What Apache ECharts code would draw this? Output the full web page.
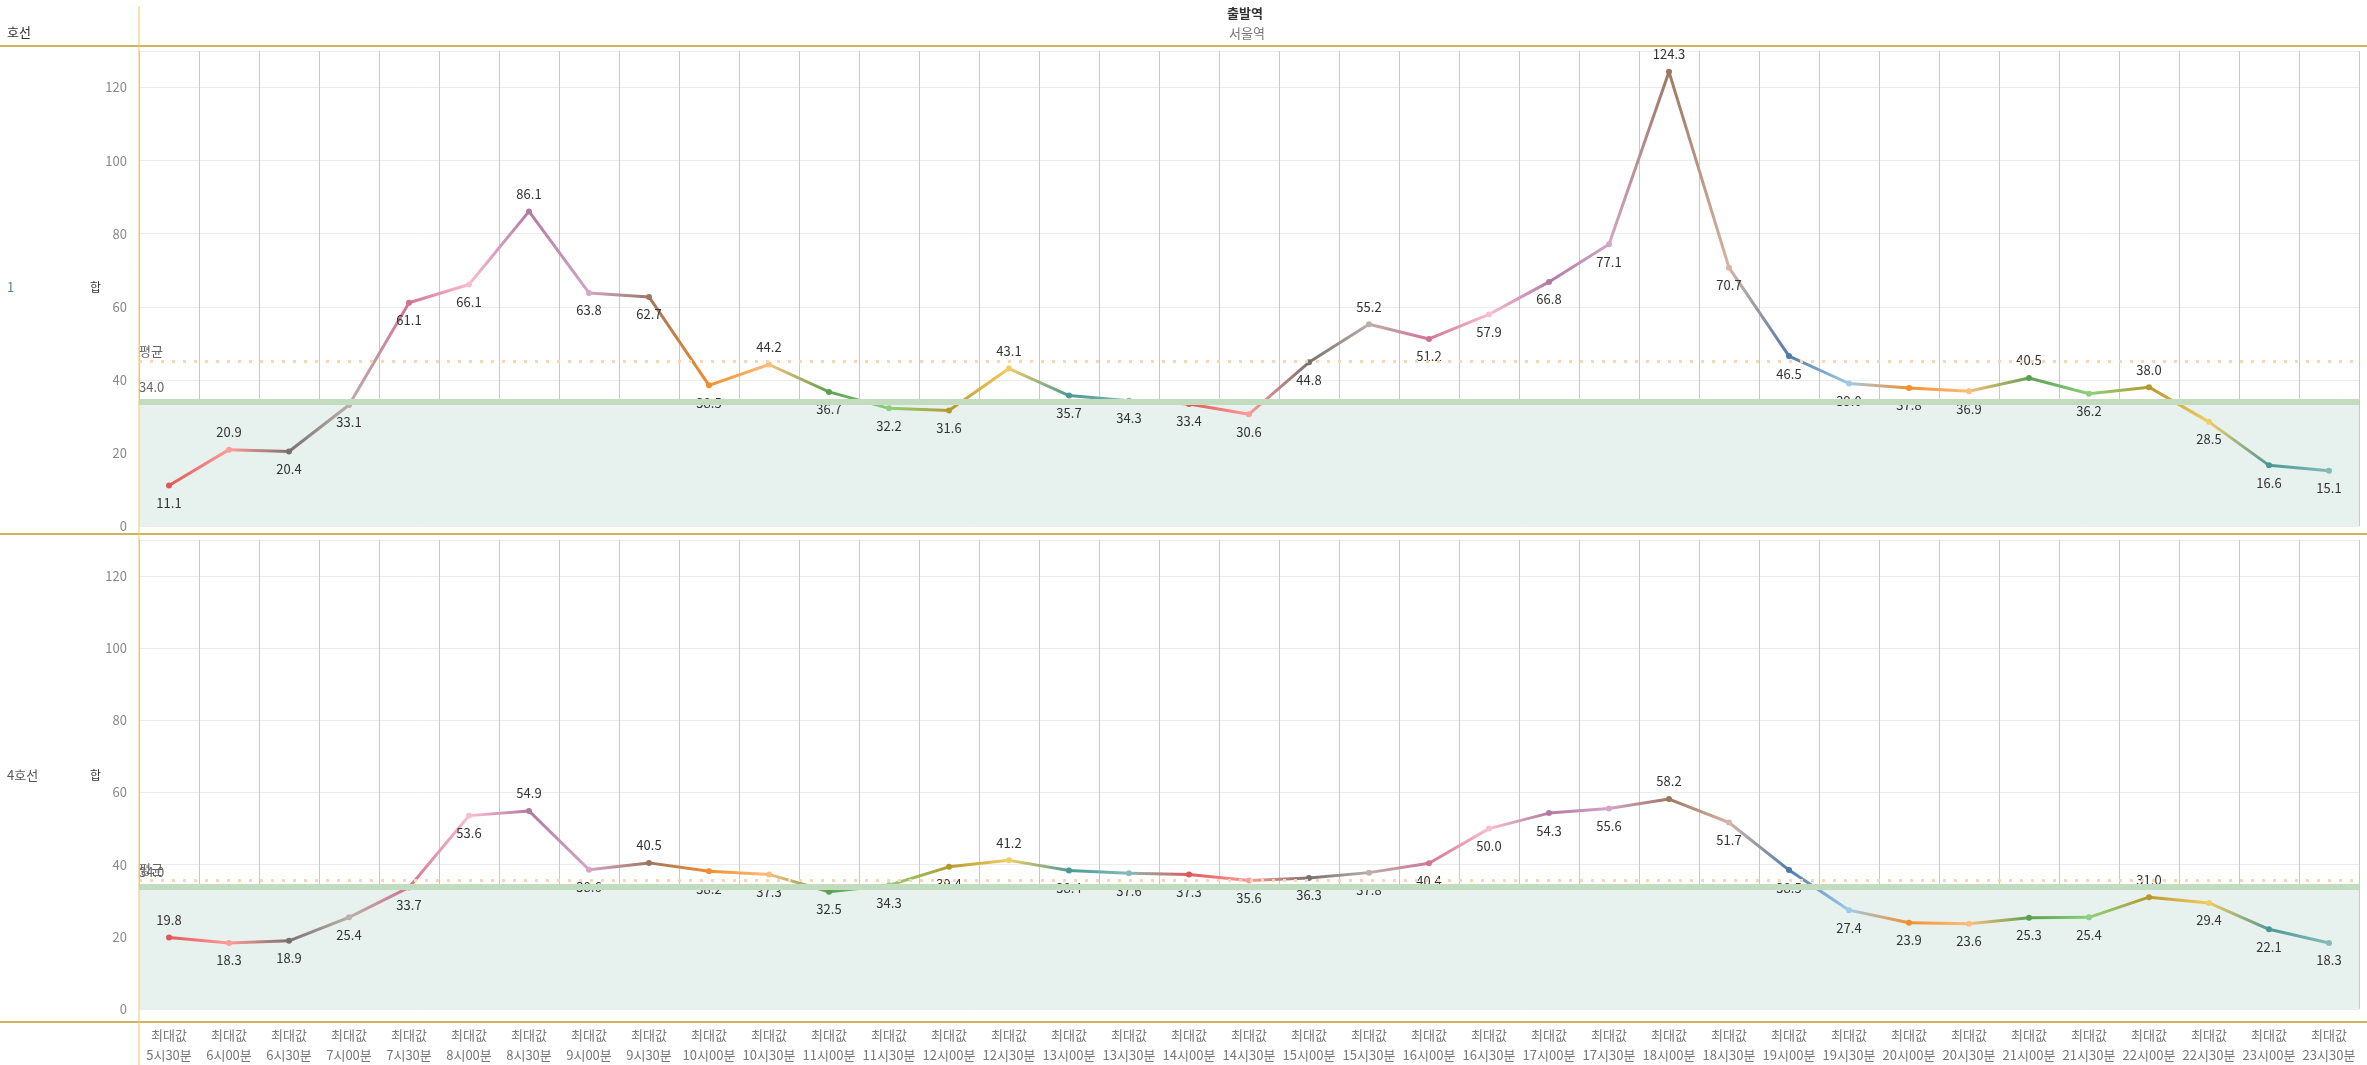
<!DOCTYPE html>
<html>
<head>
<meta charset="utf-8">
<script src="https://cdn.jsdelivr.net/npm/echarts@6/dist/echarts.min.js"></script>
<style>
  html, body { margin: 0; padding: 0; background: #fff; }
  #chart { width: 2367px; height: 1065px; }
</style>
</head>
<body>
<div id="chart"></div>
<script>
// 시간대 (x축)
const times = ['5시30분','6시00분','6시30분','7시00분','7시30분','8시00분','8시30분','9시00분','9시30분',
  '10시00분','10시30분','11시00분','11시30분','12시00분','12시30분','13시00분','13시30분','14시00분','14시30분',
  '15시00분','15시30분','16시00분','16시30분','17시00분','17시30분','18시00분','18시30분','19시00분','19시30분',
  '20시00분','20시30분','21시00분','21시30분','22시00분','22시30분','23시00분','23시30분'];

// 1호선 최대값
const line1Values = [11.1,20.9,20.4,33.1,61.1,66.1,86.1,63.8,62.7,38.5,44.2,36.7,32.2,31.6,43.1,35.7,34.3,33.4,30.6,
  44.8,55.2,51.2,57.9,66.8,77.1,124.3,70.7,46.5,39.0,37.8,36.9,40.5,36.2,38.0,28.5,16.6,15.1];

// 4호선 최대값
const line4Values = [19.8,18.3,18.9,25.4,33.7,53.6,54.9,38.6,40.5,38.2,37.3,32.5,34.3,39.4,41.2,38.4,37.6,37.3,35.6,
  36.3,37.8,40.4,50.0,54.3,55.6,58.2,51.7,38.5,27.4,23.9,23.6,25.3,25.4,31.0,29.4,22.1,18.3];

// 기준선
const refValue = 34.0;

// 점 색상 (시간대별)
const pointColors = ['#e15759','#ff9d9a','#79706e','#bab0ac','#d37295','#fabfd2','#b07aa1','#d4a6c8','#9d7660',
  '#f28e2b','#ffbe7d','#59a14f','#8cd17d','#b6992d','#f1ce63','#499894','#86bcb6','#e15759','#ff9d9a',
  '#79706e','#bab0ac','#d37295','#fabfd2','#b07aa1','#d4a6c8','#9d7660','#d7b5a6','#4e79a7','#a0cbe8',
  '#f28e2b','#ffbe7d','#59a14f','#8cd17d','#b6992d','#f1ce63','#499894','#86bcb6'];

const FONT = '"Noto Sans CJK KR", "Noto Sans", sans-serif';
const LEFT = 139, WIDTH = 2220;
const grids = [
  { left: LEFT, width: WIDTH, top: 51, height: 475 },
  { left: LEFT, width: WIDTH, top: 540, height: 473 }
];

function labelPos(values, i) {
  const v = values[i];
  const prev = i > 0 ? values[i - 1] : -Infinity;
  const next = i < values.length - 1 ? values[i + 1] : -Infinity;
  return (v >= prev && v >= next) ? 'top' : 'bottom';
}

function buildSeries(values, idx) {
  const out = [];
  // 구간별 그라데이션 선
  for (let i = 0; i < values.length - 1; i++) {
    const d = values.map((v, j) => (j === i || j === i + 1) ? v : null);
    out.push({
      type: 'line', xAxisIndex: idx, yAxisIndex: idx, data: d, symbol: 'none', silent: true,
      connectNulls: false, z: 3,
      lineStyle: {
        width: 3,
        color: { type: 'linear', x: 0, y: 0, x2: 1, y2: 0,
          colorStops: [{ offset: 0, color: pointColors[i] }, { offset: 1, color: pointColors[i + 1] }] }
      }
    });
  }
  const avg = values.reduce((a, b) => a + b, 0) / values.length;
  // 점 + 라벨 + 기준선
  out.push({
    type: 'line', xAxisIndex: idx, yAxisIndex: idx, z: 4,
    lineStyle: { width: 0, opacity: 0 },
    symbol: 'circle', symbolSize: 6,
    data: values.map((v, i) => ({
      value: v,
      itemStyle: { color: pointColors[i] },
      label: { position: labelPos(values, i) }
    })),
    label: { show: true, fontFamily: FONT, fontSize: 13, color: '#333', distance: 8,
      formatter: p => p.value.toFixed(1) },
    markArea: {
      silent: true,
      itemStyle: { color: '#e7f1ee' },
      data: [[{ yAxis: 0 }, { yAxis: refValue }]]
    },
    markLine: {
      silent: true, symbol: 'none',
      data: [
        { yAxis: refValue, lineStyle: { color: '#c3dcc0', width: 6, type: 'solid' },
          label: { show: true, position: 'insideStartTop', formatter: refValue.toFixed(1),
            color: '#666', fontFamily: FONT, fontSize: 13, distance: [0, 8] } },
        { yAxis: avg, lineStyle: { color: '#fdd6b0', width: 3, type: [3, 8] },
          label: { show: true, position: 'insideStartTop', formatter: '평균',
            color: '#666', fontFamily: FONT, fontSize: 13, distance: [0, 4] } }
      ]
    }
  });
  return out;
}

const chart = echarts.init(document.getElementById('chart'));

const xAxisBase = (idx) => ({
  type: 'category', gridIndex: idx, data: times, boundaryGap: true,
  axisLine: { show: false }, axisTick: { show: false },
  splitLine: { show: true, interval: 0, lineStyle: { color: '#f2c75c', width: 1 } },
  axisLabel: idx === 1 ? {
    interval: 0, fontFamily: FONT, fontSize: 13, color: '#777', lineHeight: 20, margin: 16,
    formatter: v => '최대값\n' + v
  } : { show: false }
});
const yAxisBase = (idx) => ({
  type: 'value', gridIndex: idx, min: 0, max: 130, interval: 20,
  axisLine: { show: false }, axisTick: { show: false },
  splitLine: { lineStyle: { color: '#ececec' } },
  axisLabel: { fontFamily: FONT, fontSize: 13, color: '#888', margin: 12,
    formatter: v => v > 120 ? '' : v }
});

const gold = '#bf9b2a';
const option = {
  animation: false,
  grid: grids,
  xAxis: [xAxisBase(0), xAxisBase(1)],
  yAxis: [yAxisBase(0), yAxisBase(1)],
  series: [...buildSeries(line1Values, 0), ...buildSeries(line4Values, 1)],
  graphic: [
    { type: 'line', shape: { x1: 0, y1: 46, x2: 2367, y2: 46 }, style: { stroke: gold, lineWidth: 1.5 }, z: 10 },
    { type: 'line', shape: { x1: 0, y1: 534, x2: 2367, y2: 534 }, style: { stroke: gold, lineWidth: 1.5 }, z: 10 },
    { type: 'line', shape: { x1: 0, y1: 1022, x2: 2367, y2: 1022 }, style: { stroke: gold, lineWidth: 1.5 }, z: 10 },
    { type: 'line', shape: { x1: LEFT, y1: 6, x2: LEFT, y2: 1065 }, style: { stroke: '#f2c75c', lineWidth: 1 }, z: 10 },
    { type: 'text', left: 7, top: 26, style: { text: '호선', font: '13px ' + FONT, fill: '#333' } },
    { type: 'text', left: 1227, top: 7, style: { text: '출발역', font: 'bold 13px ' + FONT, fill: '#333' } },
    { type: 'text', left: 1229, top: 27, style: { text: '서울역', font: '13px ' + FONT, fill: '#777' } },
    { type: 'text', left: 7, top: 281, style: { text: '1', font: '13px ' + FONT, fill: '#5b7fa8' } },
    { type: 'text', left: 90, top: 281, style: { text: '합', font: '12px ' + FONT, fill: '#333' } },
    { type: 'text', left: 7, top: 769, style: { text: '4호선', font: '13px ' + FONT, fill: '#555' } },
    { type: 'text', left: 90, top: 769, style: { text: '합', font: '12px ' + FONT, fill: '#333' } }
  ]
};

chart.setOption(option);
</script>
</body>
</html>
